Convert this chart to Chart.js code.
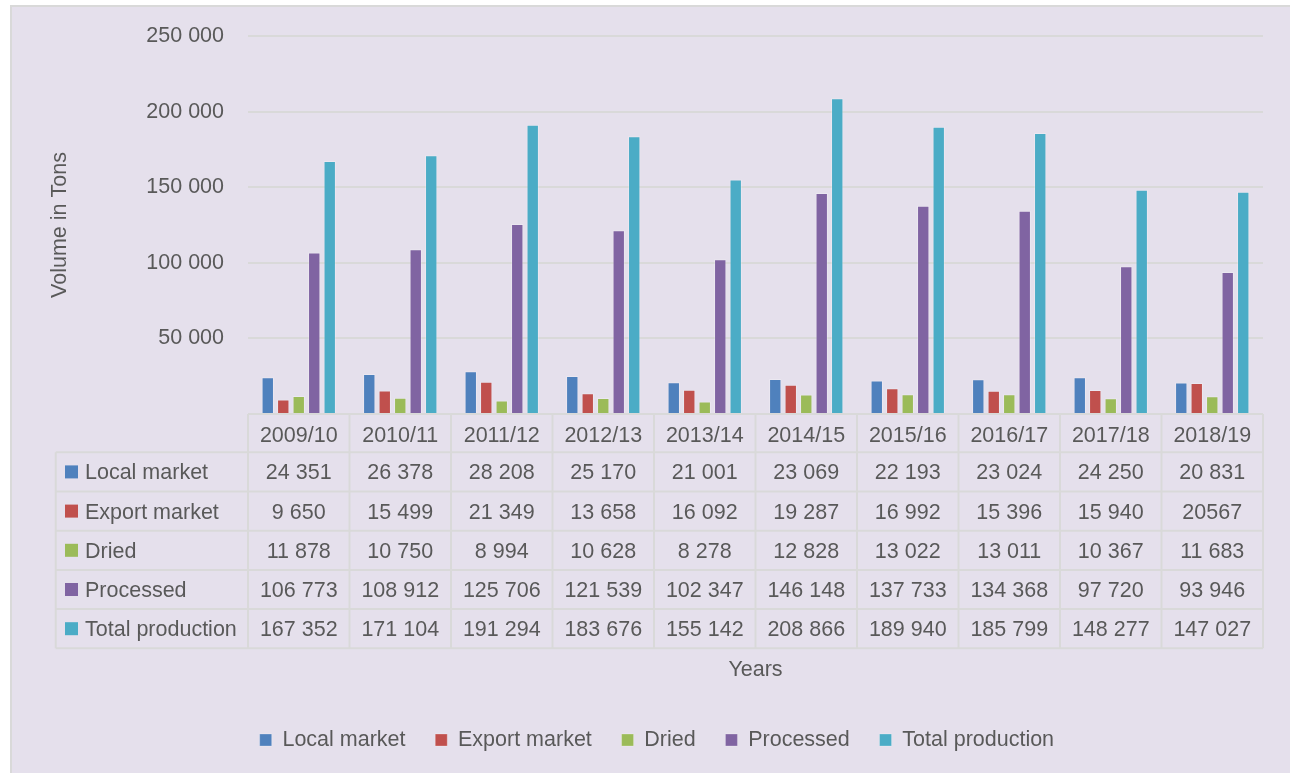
<!DOCTYPE html>
<html><head><meta charset="utf-8">
<script src="https://cdn.jsdelivr.net/npm/chart.js@4.4.1/dist/chart.umd.min.js"></script>
<style>
html,body{margin:0;padding:0;background:#fff;width:1290px;height:773px;overflow:hidden}
#wrap{position:absolute;left:10px;top:5px;width:1278px;height:766px;border-left:2px solid #D9D9D9;border-top:2px solid #D9D9D9;background:#E5E0EC}
canvas{display:block}
</style></head><body>
<div id="wrap"><canvas id="c" width="1278" height="766"></canvas></div>
<script>
const categories = ['2009/10','2010/11','2011/12','2012/13','2013/14','2014/15','2015/16','2016/17','2017/18','2018/19'];
const seriesNames = ['Local market','Export market','Dried','Processed','Total production'];
const localMarket = [24351, 26378, 28208, 25170, 21001, 23069, 22193, 23024, 24250, 20831];
const exportMarket = [9650, 15499, 21349, 13658, 16092, 19287, 16992, 15396, 15940, 20567];
const dried = [11878, 10750, 8994, 10628, 8278, 12828, 13022, 13011, 10367, 11683];
const processed = [106773, 108912, 125706, 121539, 102347, 146148, 137733, 134368, 97720, 93946];
const totalProduction = [167352, 171104, 191294, 183676, 155142, 208866, 189940, 185799, 148277, 147027];
const yTickValues = [50000, 100000, 150000, 200000, 250000];
// the source table prints this one cell without a thousands space
const unspacedCells = [[1, 9]];

const colors = ['#4F81BD','#C0504D','#9BBB59','#8064A2','#4BACC6'];
const seriesValues = [localMarket, exportMarket, dried, processed, totalProduction];
const FONT = "'Liberation Sans', Arial, sans-serif";
const FS = 21.5;
const TXT = '#595959';
const LINE = '#D9D9D9';

function fmt(v, s, i) {
  if (unspacedCells.some(c => c[0] === s && c[1] === i)) return String(v);
  return String(v).replace(/\B(?=(\d{3})+(?!\d))/g, ' ');
}

const tablePlugin = {
  id: 'dataTable',
  afterDraw(chart) {
    const {ctx, chartArea} = chart;
    const x = chart.scales.x;
    const top = chartArea.bottom;
    const headerH = 38.3, rowH = 39.2;
    const tableLeft = 43.7;
    const n = categories.length;
    const colW = (x.right - x.left) / n;
    const bottom = top + headerH + rowH * seriesNames.length;
    ctx.save();
    ctx.strokeStyle = LINE;
    ctx.lineWidth = 2;
    ctx.beginPath();
    ctx.moveTo(x.left, top); ctx.lineTo(x.right, top);
    for (let r = 0; r <= seriesNames.length; r++) {
      const yy = top + headerH + r * rowH;
      ctx.moveTo(tableLeft, yy); ctx.lineTo(x.right, yy);
    }
    for (let c = 0; c <= n; c++) {
      const xx = x.left + c * colW;
      ctx.moveTo(xx, top); ctx.lineTo(xx, bottom);
    }
    ctx.moveTo(tableLeft, top + headerH); ctx.lineTo(tableLeft, bottom);
    ctx.stroke();

    ctx.font = FS + 'px ' + FONT;
    ctx.textBaseline = 'middle';
    seriesNames.forEach((name, s) => {
      const cy = top + headerH + s * rowH + rowH / 2;
      ctx.fillStyle = colors[s];
      ctx.fillRect(53, cy - 6.5, 13, 13);
      ctx.fillStyle = TXT;
      ctx.textAlign = 'left';
      ctx.fillText(name, 73, cy + 1.5);
      ctx.textAlign = 'center';
      seriesValues[s].forEach((v, i) => {
        ctx.fillText(fmt(v, s, i), x.getPixelForValue(i), cy + 1.5);
      });
    });
    ctx.restore();
  }
};

const datasets = seriesNames.map((name, s) => ({
  label: name,
  data: seriesValues[s],
  backgroundColor: colors[s],
  borderColor: 'rgba(255,255,255,0.25)',
  borderWidth: 1,
  categoryPercentage: 0.763,
  barPercentage: 0.8
}));

new Chart(document.getElementById('c'), {
  type: 'bar',
  data: { labels: categories, datasets },
  plugins: [tablePlugin],
  options: {
    responsive: false,
    animation: false,
    layout: { padding: { top: 29, left: 11.75, right: 0, bottom: 12.25 } },
    plugins: {
      legend: {
        position: 'bottom',
        labels: { boxWidth: 12, boxHeight: 12, padding: 29.75, color: TXT, font: { family: FONT, size: FS } }
      },
      tooltip: { enabled: false }
    },
    scales: {
      x: {
        grid: { display: false, drawTicks: false },
        border: { display: false },
        ticks: { color: TXT, font: { family: FONT, size: FS }, padding: 9, maxRotation: 0 },
        title: { display: true, text: 'Years', color: TXT, font: { family: FONT, size: FS }, padding: { top: 0, bottom: 16.6 } },
        afterFit(s) { s.height = 285.5; }
      },
      y: {
        min: 0, max: 250000,
        grid: { color: LINE, lineWidth: 2, drawTicks: false },
        border: { display: false },
        afterBuildTicks(s) { s.ticks = [0].concat(yTickValues).map(v => ({ value: v })); },
        ticks: { color: TXT, font: { family: FONT, size: FS }, padding: 24, callback: v => v === 0 ? '' : fmt(v, -1, -1) },
        title: { display: true, text: 'Volume in Tons', color: TXT, font: { family: FONT, size: FS }, padding: { top: 23.65, bottom: 0 } },
        afterFit(s) { s.width = 224.25; s.paddingTop = 0; s.paddingBottom = 0; }
      },
      yR: {
        type: 'linear', position: 'right', display: true,
        grid: { display: false, drawTicks: false },
        border: { display: false },
        ticks: { display: false },
        afterFit(s) { s.width = 27; s.paddingTop = 0; s.paddingBottom = 0; }
      }
    }
  }
});
</script>
</body></html>
